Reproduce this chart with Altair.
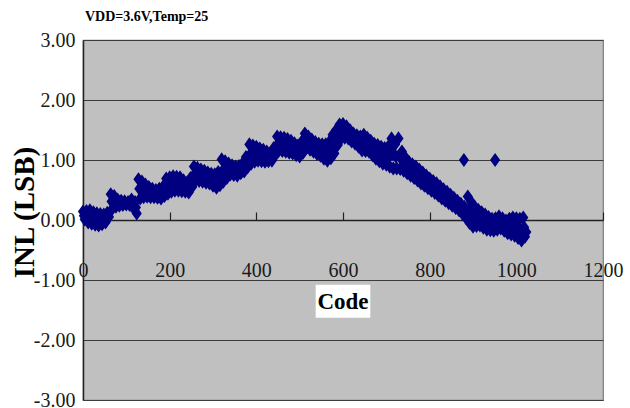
import altair as alt
import pandas as pd

# ---- data ----
# band edges: top and bottom readings, alternating, every 4 codes
codes = list(range(0, 1024, 4))
inl = [
    0.14, 0.01, 0.15, -0.04, 0.16, -0.06, 0.13, -0.08, 0.11, -0.09, 0.10, -0.07, 0.09, -0.04, 0.12, 0.05,
    0.43, 0.19, 0.40, 0.22, 0.34, 0.24, 0.32, 0.25, 0.31, 0.26, 0.30, 0.25, 0.34, 0.20, 0.30, 0.11,
    0.68, 0.36, 0.64, 0.38, 0.59, 0.39, 0.55, 0.38, 0.52, 0.38, 0.50, 0.37, 0.52, 0.36, 0.55, 0.40,
    0.69, 0.44, 0.71, 0.47, 0.73, 0.49, 0.72, 0.49, 0.71, 0.48, 0.66, 0.47, 0.62, 0.46, 0.70, 0.55,
    0.89, 0.66, 0.87, 0.65, 0.84, 0.64, 0.82, 0.62, 0.79, 0.61, 0.77, 0.57, 0.76, 0.54, 0.80, 0.58,
    1.01, 0.64, 0.98, 0.70, 0.94, 0.76, 0.91, 0.75, 0.89, 0.74, 0.90, 0.78, 0.94, 0.81, 1.05, 0.88,
    1.26, 0.94, 1.24, 0.97, 1.22, 0.99, 1.19, 0.98, 1.17, 0.97, 1.14, 0.98, 1.11, 0.99, 1.20, 1.08,
    1.39, 1.16, 1.38, 1.15, 1.37, 1.14, 1.35, 1.12, 1.32, 1.11, 1.28, 1.08, 1.24, 1.06, 1.30, 1.12,
    1.44, 1.21, 1.39, 1.17, 1.34, 1.14, 1.30, 1.10, 1.27, 1.07, 1.26, 1.02, 1.26, 0.99, 1.30, 1.03,
    1.42, 1.11, 1.50, 1.25, 1.59, 1.36, 1.60, 1.37, 1.56, 1.36, 1.50, 1.31, 1.44, 1.27, 1.41, 1.22,
    1.39, 1.16, 1.42, 1.15, 1.37, 1.14, 1.32, 1.08, 1.27, 1.02, 1.25, 0.98, 1.22, 0.94, 1.20, 0.92,
    1.22, 0.89, 1.36, 0.86, 1.26, 0.86, 1.36, 0.85, 1.14, 0.82, 1.04, 0.78, 0.97, 0.74, 0.93, 0.70,
    0.89, 0.66, 0.84, 0.61, 0.79, 0.57, 0.74, 0.53, 0.69, 0.49, 0.65, 0.45, 0.61, 0.41, 0.56, 0.36,
    0.51, 0.32, 0.47, 0.28, 0.42, 0.24, 0.37, 0.20, 0.32, 0.16, 0.27, 0.10, 0.22, 0.03, 0.39, -0.05,
    0.30, -0.11, 0.22, -0.10, 0.17, -0.09, 0.13, -0.13, 0.09, -0.16, 0.05, -0.17, 0.02, -0.18, 0.03, -0.16,
    0.06, -0.14, 0.03, -0.18, -0.01, -0.22, 0.02, -0.24, 0.04, -0.26, 0.03, -0.30, 0.02, -0.34, 0.04, -0.28,
]
# band centre readings, every 8 codes
mid_codes = list(range(2, 1024, 8))
mid_inl = [
    0.07, 0.05, 0.05, 0.03, 0.01, 0.02, 0.03, 0.08,
    0.31, 0.31, 0.29, 0.28, 0.28, 0.27, 0.27, 0.21,
    0.52, 0.51, 0.49, 0.46, 0.45, 0.43, 0.44, 0.47,
    0.56, 0.59, 0.61, 0.60, 0.59, 0.56, 0.54, 0.62,
    0.77, 0.76, 0.74, 0.72, 0.70, 0.67, 0.65, 0.69,
    0.82, 0.84, 0.85, 0.83, 0.81, 0.84, 0.87, 0.96,
    1.10, 1.10, 1.10, 1.08, 1.07, 1.06, 1.05, 1.14,
    1.27, 1.26, 1.25, 1.23, 1.21, 1.18, 1.15, 1.21,
    1.32, 1.28, 1.24, 1.20, 1.17, 1.14, 1.12, 1.16,
    1.26, 1.37, 1.47, 1.48, 1.46, 1.40, 1.35, 1.31,
    1.27, 1.28, 1.25, 1.20, 1.14, 1.11, 1.08, 1.06,
    1.05, 1.10, 1.06, 1.08, 0.98, 0.91, 0.85, 0.81,
    0.77, 0.72, 0.68, 0.63, 0.59, 0.55, 0.51, 0.46,
    0.41, 0.37, 0.33, 0.28, 0.24, 0.18, 0.12, 0.17,
    0.09, 0.06, 0.04, 0.00, -0.03, -0.06, -0.08, -0.07,
    -0.04, -0.07, -0.11, -0.11, -0.11, -0.13, -0.16, -0.12,
]
last_codes = [1023]
last_inl = [-0.20]
outlier_codes = [879, 951]
outlier_inl = [1.00, 1.00]

x_ticks = [0, 200, 400, 600, 800, 1000, 1200]
y_ticks = [-3, -2, -1, 0, 1, 2, 3]
title_text = "VDD=3.6V,Temp=25"
x_title = "Code"
y_title = "INL (LSB)"

df = pd.DataFrame({
    "code": codes + mid_codes + last_codes + outlier_codes,
    "inl": inl + mid_inl + last_inl + outlier_inl,
})

FONT = "Liberation Serif"
DIAMOND = "M0,-1L0.72,0L0,1L-0.72,0Z"
x_scale = alt.Scale(domain=[0, 1200], nice=False, zero=False)
y_scale = alt.Scale(domain=[-3, 3], nice=False, zero=False)

y_enc = alt.Y(
    "inl:Q", scale=y_scale,
    axis=alt.Axis(
        values=y_ticks, grid=True, gridColor="#3c3c3c", gridWidth=1.2,
        labelExpr="(datum.value < 0 ? '-' : '') + format(abs(datum.value), '.2f')",
        ticks=False, domain=True, domainColor="#222222", domainWidth=1.5,
        labelFont=FONT, labelFontSize=20, labelColor="#1a1a1a", labelPadding=8,
        title=y_title, titleFont=FONT, titleFontSize=29, titleFontWeight="bold",
        titleColor="black", titleAngle=270, titleX=-59, titleY=172,
        titleAlign="center", titleBaseline="middle",
    ),
)

points = alt.Chart(df).mark_point(
    shape=DIAMOND, filled=True, size=200, color="#000080", opacity=1, strokeWidth=0
).encode(
    x=alt.X(
        "code:Q", scale=x_scale,
        axis=alt.Axis(
            orient="bottom", offset=-180, values=x_ticks, format="d", labelFlush=False,
            ticks=False, domain=False, grid=False, labelPadding=40,
            labelFont=FONT, labelFontSize=20, labelColor="#1a1a1a", title=None,
        ),
    ),
    y=y_enc,
)

tick_df = pd.DataFrame({"code": x_ticks, "inl": [0] * len(x_ticks)})
tick_axis = alt.Chart(tick_df).mark_point(opacity=0).encode(
    x=alt.X(
        "code:Q", scale=x_scale,
        axis=alt.Axis(
            orient="top", offset=-180, values=x_ticks, labels=False, ticks=True,
            tickSize=8, tickColor="#222222", tickWidth=1.2, domain=True,
            domainColor="#222222", domainWidth=1.5, grid=False, title=None,
        ),
    ),
    y=alt.Y("inl:Q", scale=y_scale),
)

box_df = pd.DataFrame({"code": [537], "code2": [663], "inl": [-1.08], "inl2": [-1.63]})
box = alt.Chart(box_df).mark_rect(color="white").encode(
    x=alt.X("code:Q", scale=x_scale, axis=None),
    x2="code2:Q",
    y=alt.Y("inl:Q", scale=y_scale),
    y2="inl2:Q",
)

label_df = pd.DataFrame({"code": [600], "inl": [-1.36], "txt": [x_title]})
label = alt.Chart(label_df).mark_text(
    font=FONT, fontSize=23, fontWeight="bold", color="black", baseline="middle", align="center"
).encode(
    x=alt.X("code:Q", scale=x_scale, axis=None),
    y=alt.Y("inl:Q", scale=y_scale),
    text="txt:N",
)

chart = alt.layer(points, tick_axis, box, label).resolve_axis(x="independent").properties(
    width=520, height=360,
    autosize=alt.AutoSizeParams(type="none"),
    padding={"left": 83, "top": 40, "right": 27, "bottom": 8},
    background="white",
    title=alt.TitleParams(
        title_text, anchor="start", frame="group", font=FONT, fontSize=14,
        fontWeight="bold", color="black", offset=6, dx=2,
    ),
).configure_view(fill="#C0C0C0", stroke="#7a7a7a", strokeWidth=1.2)

chart.save("out.html", embed_options={"renderer": "svg", "actions": False})
